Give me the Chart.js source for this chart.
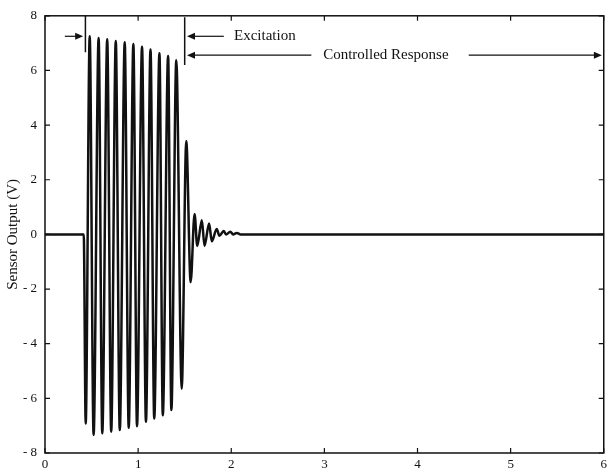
<!DOCTYPE html>
<html>
<head>
<meta charset="utf-8">
<script src="https://cdn.jsdelivr.net/npm/chart.js@4.4.1/dist/chart.umd.min.js"></script>
<style>
  html, body { margin: 0; padding: 0; background: #fff; }
  #wrap { width: 611px; height: 473px; }
</style>
</head>
<body>
<div id="wrap"><canvas id="sensorChart" width="611" height="473"></canvas></div>
<script>
  // time (s) and sensor output (V) at the peaks/troughs
  const timeSec = [0, 0.416,
    0.437, 0.480, 0.522, 0.576, 0.615, 0.668, 0.711, 0.760, 0.803, 0.856, 0.899, 0.949,
    0.988, 1.042, 1.084, 1.133, 1.173, 1.229, 1.265, 1.322, 1.357, 1.410, 1.468,
    1.517, 1.564, 1.606, 1.635, 1.684, 1.713, 1.762, 1.791, 1.844, 1.873, 1.919, 1.944,
    1.990, 2.020, 2.060, 2.100, 6];
  const sensorVolts = [0, 0,
    -6.92, 7.25, -7.34, 7.19, -7.28, 7.14, -7.22, 7.08, -7.16, 7.03, -7.08, 6.97,
    -7.02, 6.87, -6.86, 6.77, -6.74, 6.63, -6.62, 6.53, -6.43, 6.37, -5.65,
    3.42, -1.75, 0.75, -0.42, 0.52, -0.42, 0.40, -0.25, 0.20, -0.05, 0.12, 0.0,
    0.10, 0.0, 0.05, 0, 0];

  const xTicks = [0, 1, 2, 3, 4, 5, 6];
  const yTicks = [-8, -6, -4, -2, 0, 2, 4, 6, 8];

  const serif = 'Liberation Serif';
  const ink = '#111';

  // box, inward ticks and the excitation / response annotations
  const matlabFrame = {
    id: 'matlabFrame',
    afterDatasetsDraw(chart) {
      const { ctx, chartArea: a, scales: { x, y } } = chart;
      ctx.save();
      ctx.strokeStyle = ink;
      ctx.fillStyle = ink;
      ctx.lineWidth = 1.5;
      ctx.strokeRect(a.left, a.top, a.right - a.left, a.bottom - a.top);

      ctx.lineWidth = 1.2;
      ctx.beginPath();
      xTicks.forEach(v => {
        const px = x.getPixelForValue(v);
        ctx.moveTo(px, a.bottom); ctx.lineTo(px, a.bottom - 5);
        ctx.moveTo(px, a.top); ctx.lineTo(px, a.top + 5);
      });
      yTicks.forEach(v => {
        const py = y.getPixelForValue(v);
        ctx.moveTo(a.left, py); ctx.lineTo(a.left + 5, py);
        ctx.moveTo(a.right, py); ctx.lineTo(a.right - 5, py);
      });
      ctx.stroke();

      const X = v => x.getPixelForValue(v);
      const Y = v => y.getPixelForValue(v);

      // marker lines
      ctx.lineWidth = 1.5;
      ctx.beginPath();
      ctx.moveTo(X(0.434), Y(8)); ctx.lineTo(X(0.434), Y(6.67));
      ctx.moveTo(X(1.50), Y(7.95)); ctx.lineTo(X(1.50), Y(6.2));
      ctx.stroke();

      function arrow(x0, x1, yv) {
        const px0 = X(x0), px1 = X(x1), py = Y(yv);
        const dir = Math.sign(px1 - px0);
        ctx.lineWidth = 1.2;
        ctx.beginPath();
        ctx.moveTo(px0, py); ctx.lineTo(px1 - dir * 5, py);
        ctx.stroke();
        ctx.beginPath();
        ctx.moveTo(px1, py);
        ctx.lineTo(px1 - dir * 8, py - 3.5);
        ctx.lineTo(px1 - dir * 8, py + 3.5);
        ctx.closePath();
        ctx.fill();
      }
      arrow(0.213, 0.41, 7.25);
      arrow(1.92, 1.525, 7.25);
      arrow(2.86, 1.525, 6.56);
      arrow(4.55, 5.98, 6.56);

      ctx.font = '15px "' + serif + '"';
      ctx.textBaseline = 'middle';
      ctx.textAlign = 'left';
      ctx.fillText('Excitation', X(2.03), Y(7.25));
      ctx.textAlign = 'center';
      ctx.fillText('Controlled Response', X(3.66), Y(6.56));
      ctx.restore();
    }
  };

  new Chart(document.getElementById('sensorChart'), {
    type: 'scatter',
    data: {
      datasets: [{
        label: 'Sensor Output',
        data: timeSec.map((t, i) => ({ x: t, y: sensorVolts[i] })),
        showLine: true,
        borderColor: ink,
        borderWidth: 2.5,
        pointRadius: 0,
        cubicInterpolationMode: 'monotone'
      }]
    },
    options: {
      responsive: false,
      animation: false,
      devicePixelRatio: 1,
      layout: { padding: { top: 12, right: 3, left: 0, bottom: 0 } },
      plugins: {
        legend: { display: false },
        tooltip: { enabled: false }
      },
      scales: {
        x: {
          type: 'linear',
          min: 0, max: 6,
          afterBuildTicks: s => { s.ticks = xTicks.map(v => ({ value: v })); },
          afterFit: s => { s.height = 20; },
          grid: { display: false, drawTicks: false },
          border: { display: false },
          ticks: {
            padding: 4,
            color: ink,
            font: { family: serif, size: 13 },
            maxRotation: 0
          }
        },
        y: {
          min: -8, max: 8,
          afterBuildTicks: s => { s.ticks = yTicks.map(v => ({ value: v })); },
          afterFit: s => { s.width = 45; },
          grid: { display: false, drawTicks: false },
          border: { display: false },
          ticks: {
            padding: 8,
            color: ink,
            font: { family: serif, size: 13 },
            callback: v => v < 0 ? '- ' + Math.abs(v) : String(v)
          },
          title: {
            display: true,
            text: 'Sensor Output (V)',
            color: ink,
            font: { family: serif, size: 15 },
            padding: { top: 4, bottom: 0 }
          }
        }
      }
    },
    plugins: [matlabFrame]
  });
</script>
</body>
</html>
